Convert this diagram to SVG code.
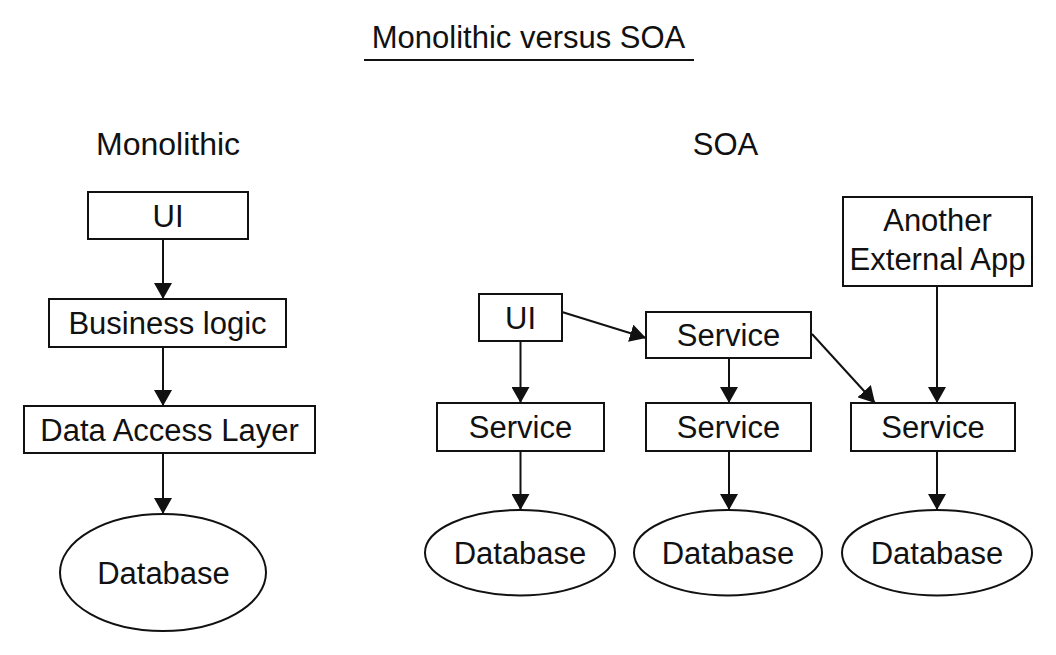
<svg xmlns="http://www.w3.org/2000/svg" width="1056" height="655" viewBox="0 0 1056 655">
<style>
  .box { fill: #fff; stroke: #111; stroke-width: 2; }
  .t { font-family: "Liberation Sans", Arial, sans-serif; font-size: 31px; fill: #111; text-anchor: middle; }
  .edge { fill: none; stroke: #111; stroke-width: 2; marker-end: url(#arrow); }
</style>
<defs>
  <marker id="arrow" markerUnits="userSpaceOnUse" markerWidth="16" markerHeight="18" refX="16" refY="9" orient="auto">
    <path d="M0,0 L16,9 L0,18 z" fill="#111"/>
  </marker>
</defs>
<rect width="1056" height="655" fill="#fff"/>

<g id="title">
  <text class="t" x="528.5" y="48">Monolithic versus SOA</text>
  <line x1="364" y1="60" x2="694" y2="60" stroke="#111" stroke-width="2"/>
</g>
<g id="label-monolithic"><text class="t" x="168" y="155" style="font-size:32px">Monolithic</text></g>
<g id="label-soa"><text class="t" x="725.5" y="155">SOA</text></g>

<g id="connectors">
  <line class="edge" x1="163" y1="240" x2="163" y2="299"/>
  <line class="edge" x1="163" y1="347" x2="163" y2="406"/>
  <line class="edge" x1="163" y1="454" x2="163" y2="514"/>
  <line class="edge" x1="520.5" y1="342" x2="520.5" y2="403"/>
  <line class="edge" x1="562" y1="312" x2="646" y2="338"/>
  <line class="edge" x1="729" y1="359" x2="729" y2="403"/>
  <line class="edge" x1="812" y1="334" x2="875" y2="403"/>
  <line class="edge" x1="937" y1="287" x2="937" y2="403"/>
  <line class="edge" x1="520.5" y1="451" x2="520.5" y2="510"/>
  <line class="edge" x1="729" y1="451" x2="729" y2="510"/>
  <line class="edge" x1="937" y1="451" x2="937" y2="510"/>
</g>

<g id="mono-ui">
  <rect class="box" x="88" y="192" width="160" height="47"/>
  <text class="t" x="168" y="226.5">UI</text>
</g>
<g id="mono-business">
  <rect class="box" x="49" y="299" width="237" height="48"/>
  <text class="t" x="167.5" y="334">Business logic</text>
</g>
<g id="mono-dal">
  <rect class="box" x="24" y="406" width="291" height="47"/>
  <text class="t" x="169.5" y="440.5">Data Access Layer</text>
</g>
<g id="mono-db">
  <ellipse class="box" cx="163" cy="572.5" rx="103" ry="58.5"/>
  <text class="t" x="163.5" y="583.5">Database</text>
</g>

<g id="soa-ui">
  <rect class="box" x="479" y="294" width="83" height="47"/>
  <text class="t" x="520.5" y="328.5">UI</text>
</g>
<g id="soa-service-top">
  <rect class="box" x="646" y="312" width="165" height="46"/>
  <text class="t" x="728.5" y="346">Service</text>
</g>
<g id="soa-external">
  <rect class="box" x="843" y="197" width="189" height="89"/>
  <text class="t" x="937.5" y="231">Another</text>
  <text class="t" x="937.5" y="270">External App</text>
</g>
<g id="soa-service-1">
  <rect class="box" x="437" y="403" width="167" height="48"/>
  <text class="t" x="520.5" y="438">Service</text>
</g>
<g id="soa-service-2">
  <rect class="box" x="646" y="403" width="165" height="48"/>
  <text class="t" x="728.5" y="438">Service</text>
</g>
<g id="soa-service-3">
  <rect class="box" x="851" y="403" width="164" height="48"/>
  <text class="t" x="933" y="438">Service</text>
</g>
<g id="soa-db-1">
  <ellipse class="box" cx="520" cy="552.7" rx="95" ry="42.7"/>
  <text class="t" x="520" y="563.5">Database</text>
</g>
<g id="soa-db-2">
  <ellipse class="box" cx="728" cy="552.7" rx="94" ry="42.7"/>
  <text class="t" x="728" y="563.5">Database</text>
</g>
<g id="soa-db-3">
  <ellipse class="box" cx="937" cy="552.7" rx="95" ry="42.7"/>
  <text class="t" x="937" y="563.5">Database</text>
</g>
</svg>
